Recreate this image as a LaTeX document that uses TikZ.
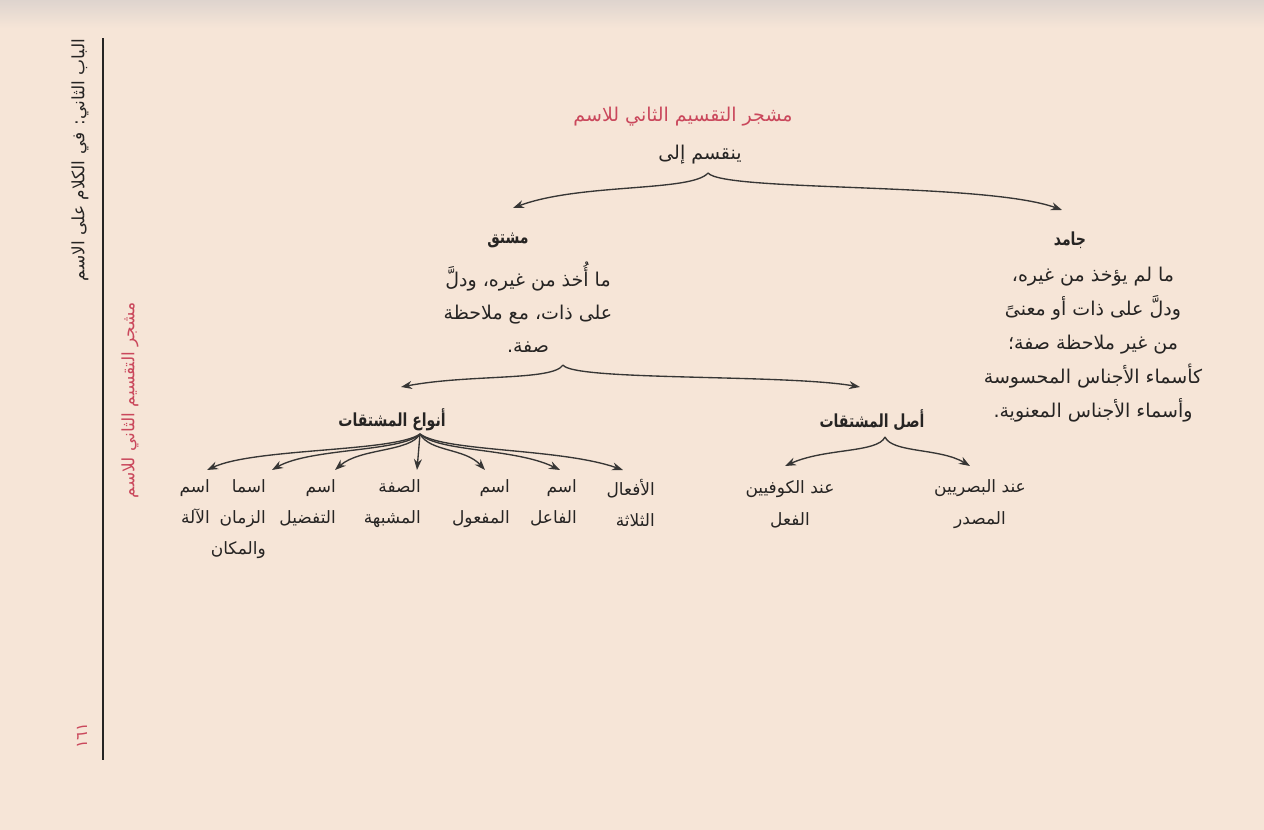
\documentclass[tikz,border=0pt]{standalone}
\usepackage{fontspec}
\usetikzlibrary{arrows.meta}
\TeXXeTstate=1
\newfontfamily\arabicfont[Script=Arabic]{DejaVu Sans}
\newfontfamily\arabichead[Script=Arabic, FakeStretch=0.78]{DejaVu Sans Bold}
\newcommand{\artxt}[1]{\beginR #1\endR}
\definecolor{paper}{RGB}{246,229,215}
\definecolor{papertop}{RGB}{222,212,206}
\definecolor{ink}{RGB}{38,36,35}
\definecolor{titlered}{RGB}{202,72,92}
\begin{document}
\begin{tikzpicture}[x=1pt,y=-1pt,
  txt/.style={font=\arabicfont\fontsize{19}{33}\selectfont, text=ink, inner sep=0pt, align=center},
  head/.style={txt, font=\arabichead\fontsize{18}{30}\selectfont},
  kid/.style={txt, align=right, anchor=north east, font=\arabicfont\fontsize{17}{31}\selectfont},
  side/.style={txt, rotate=90, font=\arabicfont\fontsize{17}{30}\selectfont},
  con/.style={draw=ink!92, line width=1.35pt, -{Stealth[length=11pt,width=8pt]}},
]
\fill[paper] (0,0) rectangle (1264,830);
\shade[top color=papertop, bottom color=paper] (0,0) rectangle (1264,28);
\useasboundingbox (0,0) rectangle (1264,830);

% margin
\draw[ink, line width=1.4pt] (103,38) -- (103,760);
\node[side] (chap) at (80,160) {\artxt{الباب الثاني: في الكلام على الاسم}};
\node[side, text=titlered] (sidetitle) at (130,400) {\artxt{مشجر التقسيم الثاني للاسم}};
\node[side, text=titlered, font=\arabicfont\fontsize{16}{30}\selectfont] (pnum) at (82,736) {\artxt{١٦١}};

% top
\node[txt, text=titlered] (title) at (683,117) {\artxt{مشجر التقسيم الثاني للاسم}};
\node[txt] (div) at (700,155) {\artxt{ينقسم إلى}};
\coordinate (p1) at (708,173);

\node[head] (mushtaq) at (508,240) {\artxt{مشتق}};
\node[txt] (mdef) at (528,307) {\artxt{ما أُخذ من غيره، ودلَّ}\\\artxt{على ذات، مع ملاحظة}\\\artxt{صفة.}};
\node[head] (jamid) at (1070,240) {\artxt{جامد}};
\node[txt, font=\arabicfont\fontsize{19}{34}\selectfont] (jdef) at (1093,345) {\artxt{ما لم يؤخذ من غيره،}\\\artxt{ودلَّ على ذات أو معنىً}\\\artxt{من غير ملاحظة صفة؛}\\\artxt{كأسماء الأجناس المحسوسة}\\\artxt{وأسماء الأجناس المعنوية.}};
\coordinate (mushtaq-in) at (513,208);
\coordinate (jamid-in) at (1062,210);
\draw[con] (p1) .. controls (692,192) and (580,183) .. (mushtaq-in);
\draw[con] (p1) .. controls (724,192) and (985,182) .. (jamid-in);

% second level
\coordinate (p2) at (563,365);
\node[head] (anwa) at (392,420) {\artxt{أنواع المشتقات}};
\node[head] (asl) at (872,420) {\artxt{أصل المشتقات}};
\coordinate (anwa-in) at (401,387);
\coordinate (asl-in) at (860,387);
\draw[con] (p2) .. controls (553,381) and (470,374) .. (anwa-in);
\draw[con] (p2) .. controls (573,381) and (785,374) .. (asl-in);

% children of anwa
\coordinate (p3) at (420,434);
\node[kid] (k1) at (655,479) {\artxt{الأفعال}\\\artxt{الثلاثة}};
\node[kid] (k2) at (577,479) {\artxt{اسم}\\\artxt{الفاعل}};
\node[kid] (k3) at (510,479) {\artxt{اسم}\\\artxt{المفعول}};
\node[kid] (k4) at (421,479) {\artxt{الصفة}\\\artxt{المشبهة}};
\node[kid] (k5) at (336,479) {\artxt{اسم}\\\artxt{التفضيل}};
\node[kid] (k6) at (266,479) {\artxt{اسما}\\\artxt{الزمان}\\\artxt{والمكان}};
\node[kid] (k7) at (210,479) {\artxt{اسم}\\\artxt{الآلة}};
\coordinate (k1-in) at (623,470);
\coordinate (k2-in) at (560,470);
\coordinate (k3-in) at (485,470);
\coordinate (k4-in) at (417,470);
\coordinate (k5-in) at (335,470);
\coordinate (k6-in) at (272,470);
\coordinate (k7-in) at (207,470);
\draw[con] (p3) .. controls (445,452) and (560,448) .. (k1-in);
\draw[con] (p3) .. controls (438,452) and (515,448) .. (k2-in);
\draw[con] (p3) .. controls (430,452) and (465,448) .. (k3-in);
\draw[con] (p3) -- (k4-in);
\draw[con] (p3) .. controls (410,452) and (360,448) .. (k5-in);
\draw[con] (p3) .. controls (402,452) and (310,448) .. (k6-in);
\draw[con] (p3) .. controls (395,452) and (255,448) .. (k7-in);

% children of asl
\coordinate (p4) at (885,437);
\node[txt, font=\arabicfont\fontsize{17}{32}\selectfont] (kufa) at (790,504) {\artxt{عند الكوفيين}\\\artxt{الفعل}};
\node[txt, font=\arabicfont\fontsize{17}{32}\selectfont] (basra) at (980,504) {\artxt{عند البصريين}\\\artxt{المصدر}};
\coordinate (kufa-in) at (785,466);
\coordinate (basra-in) at (970,466);
\draw[con] (p4) .. controls (878,453) and (825,448) .. (kufa-in);
\draw[con] (p4) .. controls (892,453) and (940,448) .. (basra-in);
\end{tikzpicture}
\end{document}
